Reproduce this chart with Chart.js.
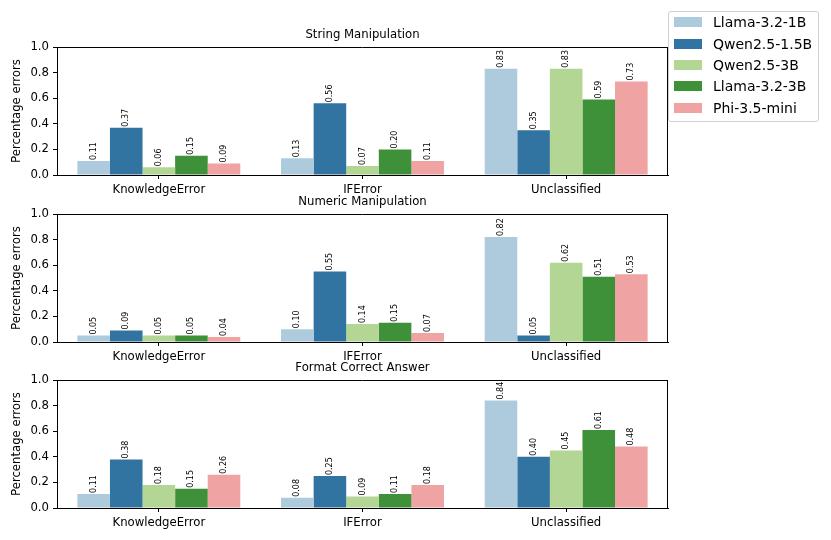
<!DOCTYPE html>
<html>
<head>
<meta charset="utf-8">
<script src="https://cdn.jsdelivr.net/npm/chart.js@4.4.1/dist/chart.umd.min.js"></script>
<style>
  body { margin: 0; background: #fff; width: 831px; height: 540px; position: relative; overflow: hidden; font-family: 'DejaVu Sans', sans-serif; }
  canvas.panel { position: absolute; left: 0; }
  #legend { position: absolute; left: 668px; top: 11px; width: 151px; height: 111px; box-sizing: border-box;
            border: 1px solid #d0d0d0; border-radius: 3px; background: rgba(255,255,255,0.8); z-index: 5; }
  .item { position: absolute; left: 5px; height: 20px; line-height: 20px; font-size: 14px; color: #000; white-space: nowrap; }
  .sw { display: inline-block; width: 28px; height: 10px; vertical-align: middle; margin-right: 11px; position: relative; top: -1px; }
</style>
</head>
<body>
<canvas id="c1" class="panel" width="831" height="200" style="top:1px"></canvas>
<canvas id="c2" class="panel" width="831" height="200" style="top:168px"></canvas>
<canvas id="c3" class="panel" width="831" height="200" style="top:334px"></canvas>
<div id="legend"></div>
<script>
// Données
const categories = ['KnowledgeError', 'IFError', 'Unclassified'];
const models = ['Llama-3.2-1B', 'Qwen2.5-1.5B', 'Qwen2.5-3B', 'Llama-3.2-3B', 'Phi-3.5-mini'];
const colors = ['#adcbdd', '#3274a1', '#b4d695', '#3e9139', '#efa4a3'];
const panelTitles = ['String Manipulation', 'Numeric Manipulation', 'Format Correct Answer'];
const yTicks = [0, 0.2, 0.4, 0.6, 0.8, 1.0];

// une ligne par modèle : [KnowledgeError, IFError, Unclassified]
const stringValues = [
  [0.11, 0.13, 0.83],
  [0.37, 0.56, 0.35],
  [0.06, 0.07, 0.83],
  [0.15, 0.20, 0.59],
  [0.09, 0.11, 0.73],
];
const numericValues = [
  [0.05, 0.10, 0.82],
  [0.09, 0.55, 0.05],
  [0.05, 0.14, 0.62],
  [0.05, 0.15, 0.51],
  [0.04, 0.07, 0.53],
];
const formatValues = [
  [0.11, 0.08, 0.84],
  [0.38, 0.25, 0.40],
  [0.18, 0.09, 0.45],
  [0.15, 0.11, 0.61],
  [0.26, 0.18, 0.48],
];

const FONT = "'DejaVu Sans'";

// cadre complet (haut + droite) comme matplotlib
const framePlugin = {
  id: 'frame',
  afterDraw(chart) {
    const { ctx, chartArea: a } = chart;
    ctx.save();
    ctx.strokeStyle = '#000';
    ctx.lineWidth = 1;
    ctx.beginPath();
    ctx.moveTo(a.left, Math.round(a.top) + 0.5);
    ctx.lineTo(a.right, Math.round(a.top) + 0.5);
    ctx.moveTo(Math.round(a.right) - 0.5, a.top);
    ctx.lineTo(Math.round(a.right) - 0.5, a.bottom);
    ctx.stroke();
    ctx.restore();
  }
};

// étiquettes verticales au-dessus des barres
const valueLabels = {
  id: 'valueLabels',
  afterDatasetsDraw(chart) {
    const ctx = chart.ctx;
    ctx.save();
    ctx.font = '8px ' + FONT;
    ctx.fillStyle = '#000';
    ctx.textAlign = 'left';
    ctx.textBaseline = 'middle';
    chart.data.datasets.forEach((ds, i) => {
      chart.getDatasetMeta(i).data.forEach((bar, j) => {
        ctx.save();
        ctx.translate(bar.x, bar.y - 1);
        ctx.rotate(-Math.PI / 2);
        ctx.fillText(ds.data[j].toFixed(2), 0, 0);
        ctx.restore();
      });
    });
    ctx.restore();
  }
};

function makePanel(id, title, values) {
  return new Chart(document.getElementById(id), {
    type: 'bar',
    data: {
      labels: categories,
      datasets: models.map((m, i) => ({
        label: m,
        data: values[i],
        backgroundColor: colors[i],
        borderWidth: 0,
        categoryPercentage: 0.8,
        barPercentage: 1.0,
      }))
    },
    options: {
      responsive: false,
      animation: false,
      layout: { padding: { left: 0, right: 163, top: 0, bottom: 0 } },
      plugins: {
        legend: { display: false },
        tooltip: { enabled: false },
        title: {
          display: true, text: title, fullSize: false, color: '#000',
          font: { family: FONT, size: 11.7, weight: 'normal' },
          padding: { top: 27, bottom: 5 }
        }
      },
      scales: {
        x: {
          grid: { display: true, drawOnChartArea: false, offset: false, tickLength: 4, color: '#000' },
          border: { display: true, color: '#000', width: 1 },
          ticks: { padding: 4, color: '#000', font: { family: FONT, size: 11.7 } },
          afterFit: s => { s.height = 26; }
        },
        y: {
          min: 0, max: 1,
          afterBuildTicks: s => { s.ticks = yTicks.map(v => ({ value: v })); },
          ticks: { callback: v => v.toFixed(1), padding: 4, color: '#000', font: { family: FONT, size: 11.7 } },
          grid: { display: true, drawOnChartArea: false, tickLength: 4, color: '#000' },
          border: { display: true, color: '#000', width: 1 },
          title: { display: true, text: 'Percentage errors', color: '#000', font: { family: FONT, size: 11.7 }, padding: { top: 10, bottom: 0 } },
          afterFit: s => { s.width = 57; }
        }
      }
    },
    plugins: [framePlugin, valueLabels]
  });
}

makePanel('c1', panelTitles[0], stringValues);
makePanel('c2', panelTitles[1], numericValues);
makePanel('c3', panelTitles[2], formatValues);

// légende
const legend = document.getElementById('legend');
models.forEach((m, i) => {
  const it = document.createElement('div');
  it.className = 'item';
  it.style.top = (22.3 - 12 - 10 + i * 21.3) + 'px';
  it.innerHTML = `<span class="sw" style="background:${colors[i]}"></span>${m}`;
  legend.appendChild(it);
});
</script>
</body>
</html>
